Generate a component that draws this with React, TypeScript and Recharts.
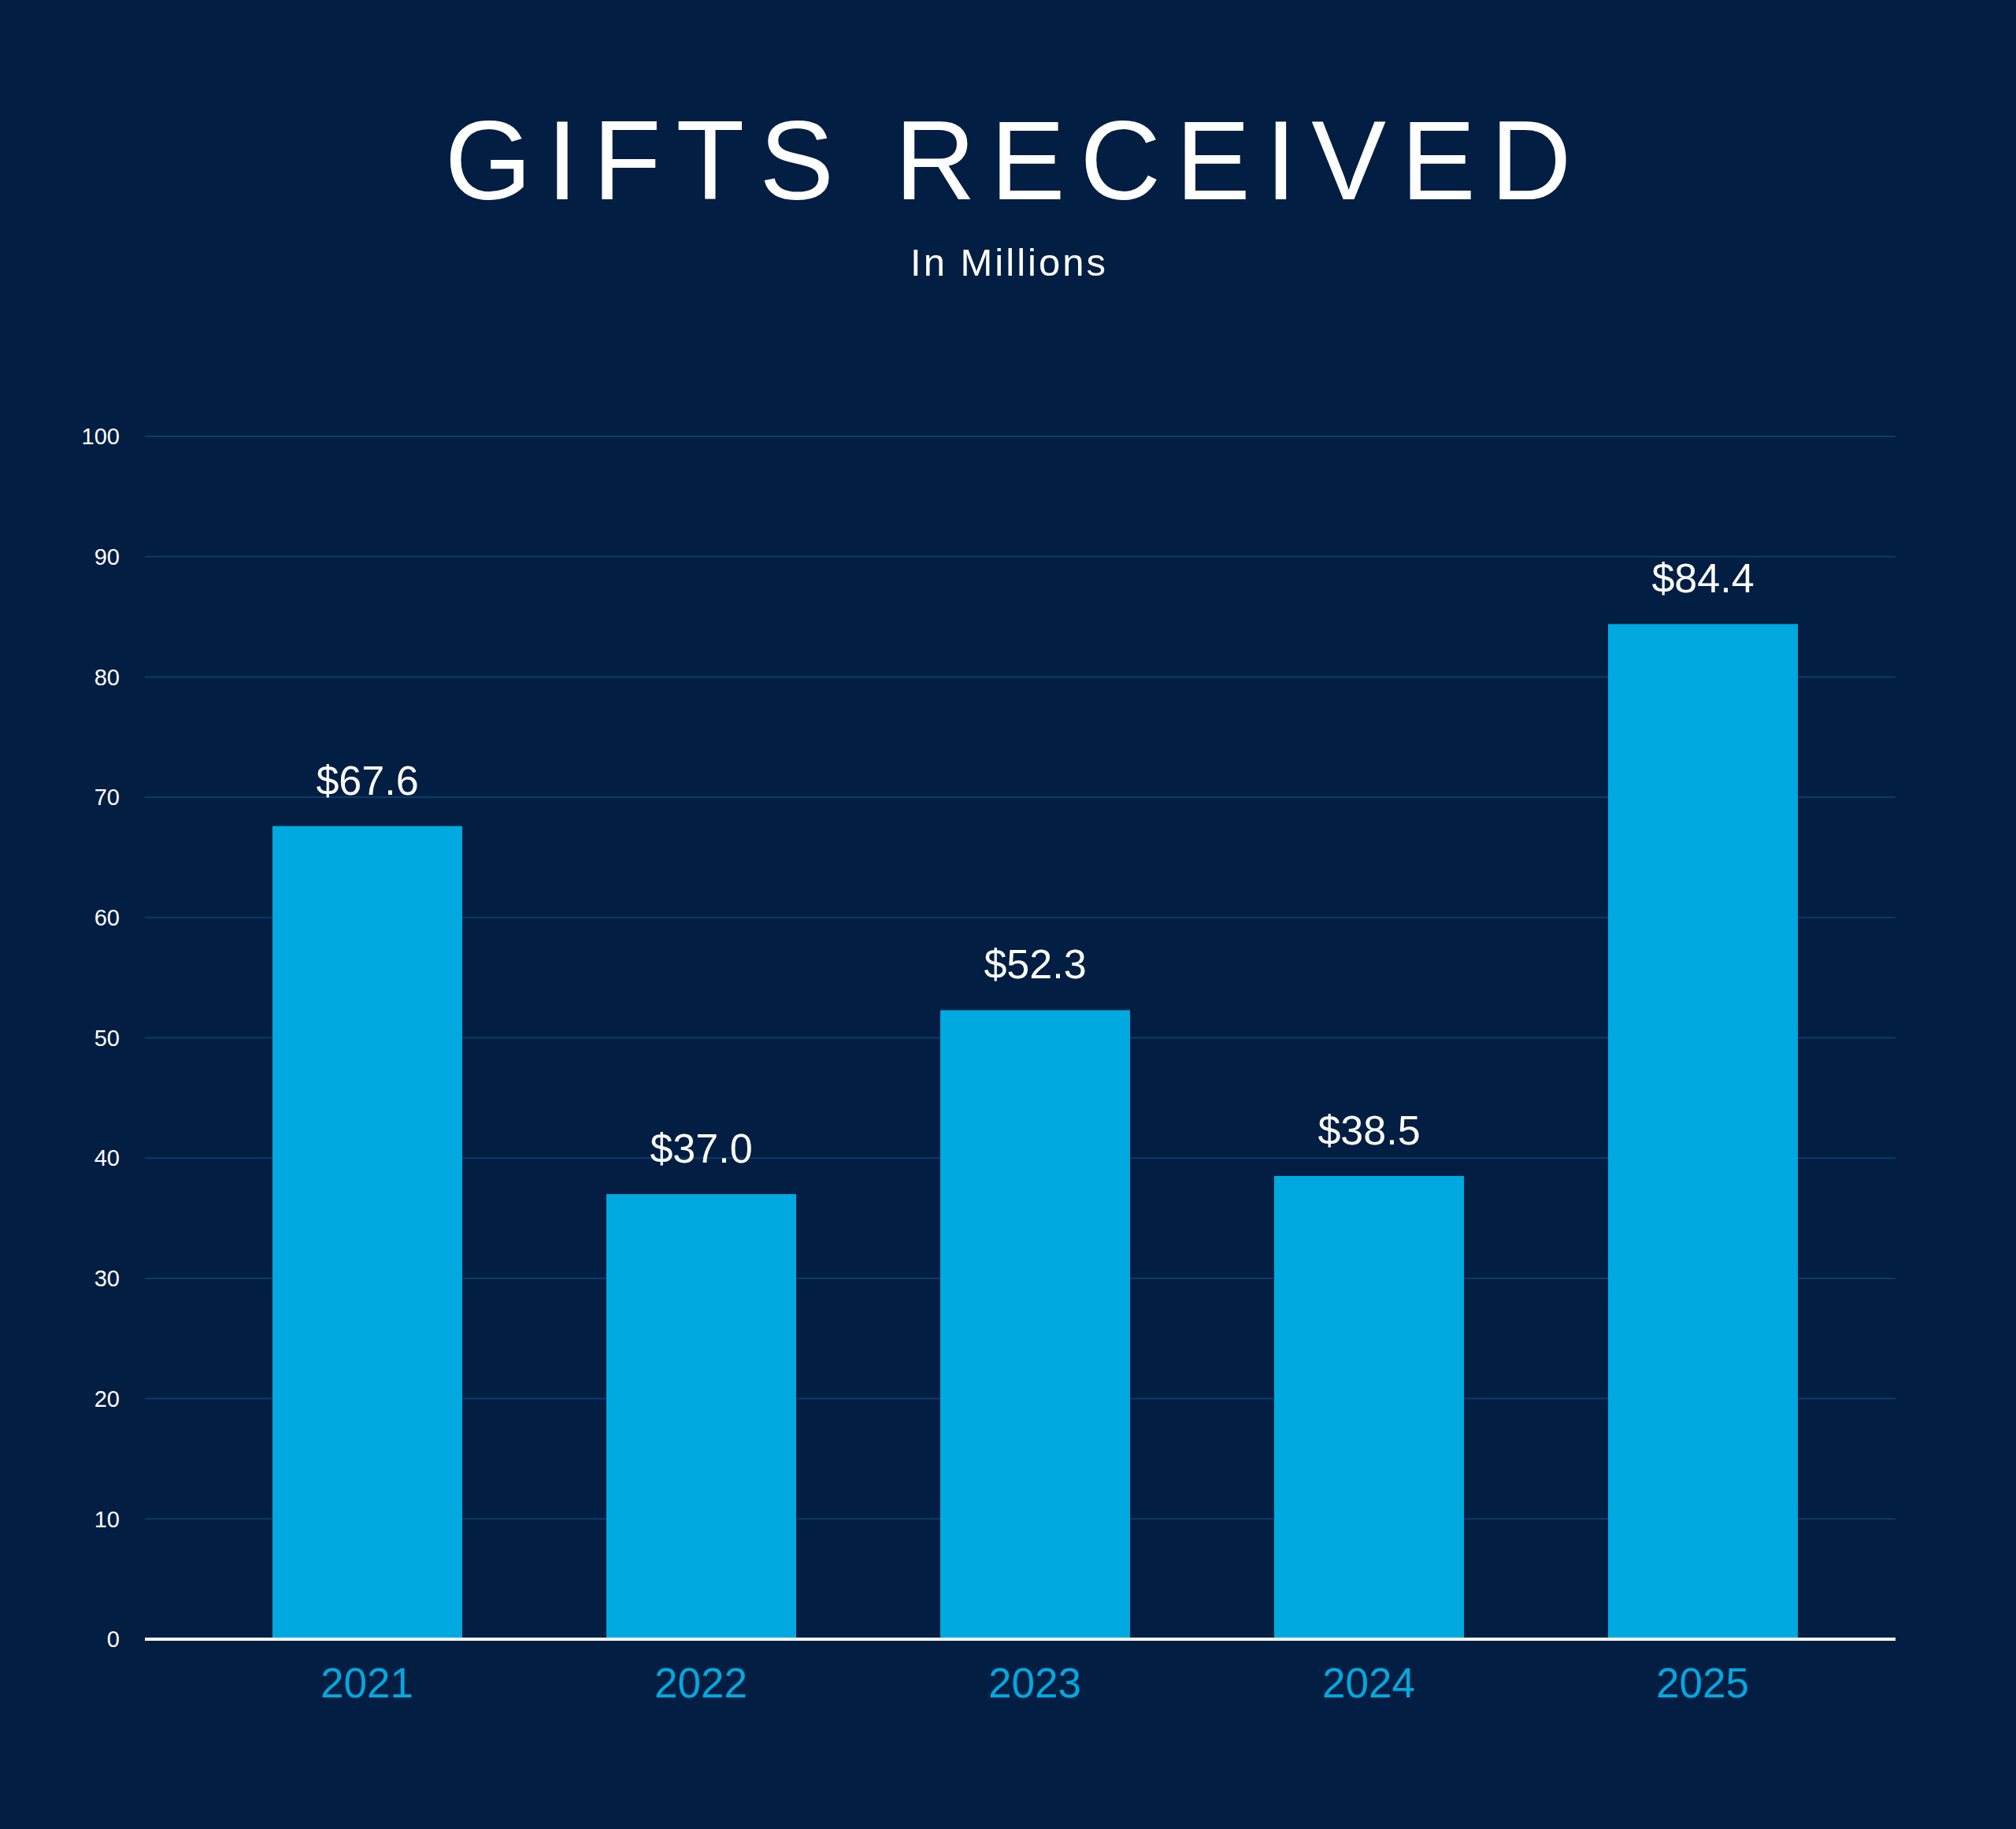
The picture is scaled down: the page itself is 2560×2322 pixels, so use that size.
import React from 'react';
import { BarChart, Bar, XAxis, YAxis, CartesianGrid, LabelList } from 'recharts';

const years = ['2021', '2022', '2023', '2024', '2025'];
const gifts = [67.6, 37.0, 52.3, 38.5, 84.4];
const yTicks = [0, 10, 20, 30, 40, 50, 60, 70, 80, 90, 100];

const data = years.map((year, i) => ({ year, gifts: gifts[i] }));

const BG = '#031E43';
const BAR = '#00A9E0';
const GRID = '#0B3C68';
const FONT = '"Liberation Sans", Arial, Helvetica, sans-serif';

export default function App() {
  return (
    <div
      style={{
        position: 'absolute',
        left: 0,
        top: 0,
        width: 2560,
        height: 2322,
        background: BG,
        fontFamily: FONT,
        overflow: 'hidden',
      }}
    >
      <div
        style={{
          position: 'absolute',
          left: 0,
          top: 124,
          width: 2560,
          textAlign: 'center',
          color: '#ffffff',
          fontSize: 142,
          lineHeight: '160px',
          letterSpacing: 19,
          paddingLeft: 19,
          boxSizing: 'border-box',
          fontWeight: 400,
        }}
      >
        GIFTS RECEIVED
      </div>
      <div
        style={{
          position: 'absolute',
          left: 0,
          top: 303,
          width: 2560,
          textAlign: 'center',
          color: '#ffffff',
          fontSize: 49,
          lineHeight: '60px',
          letterSpacing: 3,
          paddingLeft: 3,
          boxSizing: 'border-box',
        }}
      >
        In Millions
      </div>
      <div style={{ position: 'absolute', left: 0, top: 0 }}>
        <BarChart
          width={2560}
          height={2322}
          data={data}
          margin={{ top: 554, right: 153, bottom: 141, left: 0 }}
          barCategoryGap={0}
        >
          <CartesianGrid vertical={false} stroke={GRID} strokeWidth={2} />
          <XAxis
            dataKey="year"
            height={100}
            axisLine={{ stroke: '#ffffff', strokeWidth: 4 }}
            tickLine={false}
            tickSize={0}
            tickMargin={36}
            padding={{ left: 70, right: 33 }}
            tick={{ fill: BAR, fontSize: 53, fontFamily: FONT }}
          />
          <YAxis
            width={184}
            domain={[0, 100]}
            ticks={yTicks}
            axisLine={false}
            tickLine={false}
            tickSize={30}
            tickMargin={2}
            tick={{ fill: '#ffffff', fontSize: 29, fontFamily: FONT }}
          />
          <Bar dataKey="gifts" fill={BAR} barSize={241} isAnimationActive={false}>
            <LabelList
              dataKey="gifts"
              position="top"
              offset={40}
              formatter={(v: number) => `$${v.toFixed(1)}`}
              style={{ fill: '#ffffff', fontSize: 52, fontFamily: FONT }}
            />
          </Bar>
        </BarChart>
      </div>
    </div>
  );
}
